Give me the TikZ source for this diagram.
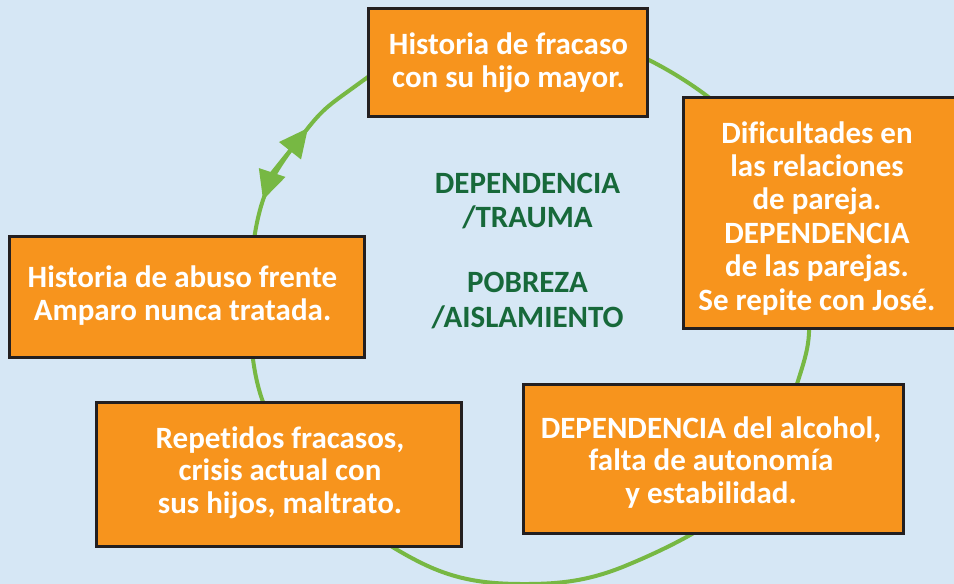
\documentclass[tikz,border=0pt]{standalone}
\usepackage{fontspec}
\setmainfont{Carlito}[Ligatures={NoCommon}]
\usetikzlibrary{arrows.meta}
\definecolor{bgblue}{HTML}{D6E7F5}
\definecolor{boxorange}{HTML}{F7941D}
\definecolor{boxedge}{HTML}{231F20}
\definecolor{ringgreen}{HTML}{77B843}
\definecolor{textgreen}{HTML}{17693A}
\tikzset{ringtip/.tip={Triangle[length=29pt,width=27pt]}}
\begin{document}
\begin{tikzpicture}[x=1pt,y=-1pt,
  box/.style={rectangle, draw=boxedge, line width=3pt, fill=boxorange, inner sep=0pt},
  boxtext/.style={text=white, align=center, anchor=base, inner sep=0pt,
    font=\fontsize{31}{32.5}\selectfont\bfseries},
  centertext/.style={text=textgreen, align=center, anchor=base, inner sep=0pt,
    font=\fontsize{31}{34.5}\selectfont\bfseries},
  ring/.style={draw=ringgreen, line width=4pt}]
\fill[bgblue] (0,0) rectangle (954,584);
\useasboundingbox (0,0) rectangle (954,584);

% cycle ring
\draw[ring] plot[smooth cycle, tension=0.6] coordinates {
    (512,27) (649,60) (765,155) (807,300) (797,384) (745,495) (625,566)
    (528,584) (430,567) (320,492) (263,402) (250,300) (263,200) (308,128) (350,90) (430,40)};

% double arrow on the ring
\coordinate (lo) at (263,200);
\coordinate (up) at (308,128);
\draw[ring, {ringtip}-{ringtip}] (lo) .. controls (272,173) and (290.6,150) .. (up);

% boxes
\node[box, minimum width=278.5pt, minimum height=108.4pt] (b1) at (508.2,62.5) {};
\node[box, minimum width=273.7pt, minimum height=231.3pt] (b2) at (820.2,213.3) {};
\node[box, minimum width=355.1pt, minimum height=121.4pt] (b3) at (186.8,297) {};
\node[box, minimum width=365.5pt, minimum height=143.7pt] (b4) at (279.2,474.8) {};
\node[box, minimum width=379.7pt, minimum height=148.6pt] (b5) at (713.2,459) {};

% texts (anchor = baseline of last line)
\node[boxtext] (t1) at (508.5,87) {Historia de fracaso\\con su hijo mayor.};
\node[boxtext, font=\fontsize{31}{33.4}\selectfont\bfseries] (t2) at (817,310)
  {Dificultades en\\las relaciones\\de pareja.\\DEPENDENCIA\\de las parejas.\\Se repite con José.};
\node[boxtext] (t3) at (182.5,320) {Historia de abuso frente\\Amparo nunca tratada.};
\node[boxtext] (t4) at (280,513) {Repetidos fracasos,\\crisis actual con\\sus hijos, maltrato.};
\node[boxtext] (t5) at (711,503) {DEPENDENCIA del alcohol,\\falta de autonomía\\y estabilidad.};
\node[centertext] (g) at (527.5,327) {DEPENDENCIA\\/TRAUMA\\[30.5pt]POBREZA\\/AISLAMIENTO};
\end{tikzpicture}
\end{document}
